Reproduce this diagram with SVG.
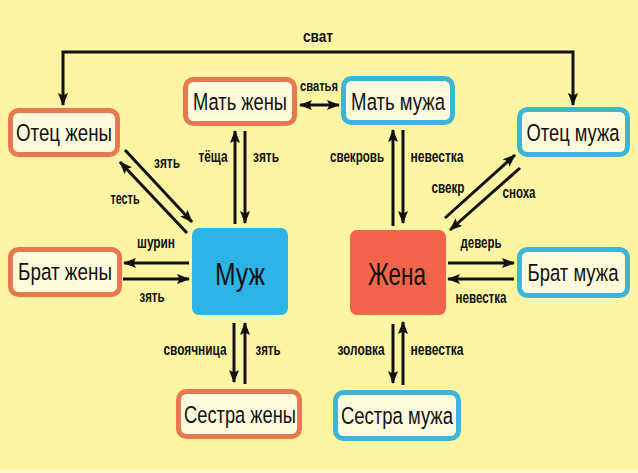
<svg xmlns="http://www.w3.org/2000/svg" width="638" height="473" viewBox="0 0 638 473">
<defs>
<style>
.bg{fill:#fcf5a3}
.nw{fill:#fffbdc;stroke:#e6794f;stroke-width:5}
.nh{fill:#fffbdc;stroke:#3eb4d6;stroke-width:5}
.t{font-family:"Liberation Sans Narrow","Liberation Sans",Arial,sans-serif;fill:#111;text-anchor:middle}
.nt{font-size:24.5px}
.big{font-size:32px}
.lb{font-size:16px;font-weight:bold}
.sm{font-size:14px;font-weight:bold}
.c{fill:none;stroke:#111;stroke-width:3}
</style>
<marker id="ah" viewBox="0 0 13 10" markerWidth="13" markerHeight="10" refX="12" refY="5" orient="auto-start-reverse" markerUnits="userSpaceOnUse">
<path d="M0,0 L13,5 L0,10 L2.5,5 z" fill="#111"/>
</marker>
</defs>
<rect class="bg" x="0" y="0" width="638" height="473"/>
<rect x="0" y="469" width="638" height="4" fill="#fdf9c8"/>

<g id="connectors">
<path class="c" d="M63,105 V52 H573 V105" marker-start="url(#ah)" marker-end="url(#ah)"/>
<line class="c" x1="300" y1="105" x2="339" y2="105" marker-start="url(#ah)" marker-end="url(#ah)"/>
<line class="c" x1="235" y1="224" x2="235" y2="131" marker-end="url(#ah)"/>
<line class="c" x1="245" y1="131" x2="245" y2="223" marker-end="url(#ah)"/>
<line class="c" x1="125" y1="150" x2="192" y2="222" marker-end="url(#ah)"/>
<line class="c" x1="187" y1="233" x2="120" y2="162" marker-end="url(#ah)"/>
<line class="c" x1="189" y1="263" x2="124" y2="263" marker-end="url(#ah)"/>
<line class="c" x1="123" y1="279" x2="189" y2="279" marker-end="url(#ah)"/>
<line class="c" x1="234" y1="323" x2="234" y2="382" marker-end="url(#ah)"/>
<line class="c" x1="245" y1="384" x2="245" y2="323" marker-end="url(#ah)"/>
<line class="c" x1="393" y1="226" x2="393" y2="130" marker-end="url(#ah)"/>
<line class="c" x1="403" y1="130" x2="403" y2="223" marker-end="url(#ah)"/>
<line class="c" x1="445" y1="218" x2="515" y2="155" marker-end="url(#ah)"/>
<line class="c" x1="520" y1="168" x2="450" y2="230" marker-end="url(#ah)"/>
<line class="c" x1="448" y1="263" x2="514" y2="263" marker-end="url(#ah)"/>
<line class="c" x1="514" y1="279" x2="448" y2="279" marker-end="url(#ah)"/>
<line class="c" x1="393" y1="324" x2="393" y2="383" marker-end="url(#ah)"/>
<line class="c" x1="403" y1="385" x2="403" y2="322" marker-end="url(#ah)"/>
</g>

<g id="labels">
<text class="t lb" x="318" y="42" textLength="30" lengthAdjust="spacingAndGlyphs">сват</text>
<text class="t sm" x="319" y="91" textLength="38" lengthAdjust="spacingAndGlyphs">сватья</text>
<text class="t lb" x="213" y="162" textLength="29" lengthAdjust="spacingAndGlyphs">тёща</text>
<text class="t lb" x="266" y="162" textLength="26" lengthAdjust="spacingAndGlyphs">зять</text>
<text class="t lb" x="167" y="168" textLength="26" lengthAdjust="spacingAndGlyphs">зять</text>
<text class="t lb" x="125" y="204" textLength="29" lengthAdjust="spacingAndGlyphs">тесть</text>
<text class="t lb" x="156" y="248" textLength="38" lengthAdjust="spacingAndGlyphs">шурин</text>
<text class="t lb" x="152" y="302" textLength="25" lengthAdjust="spacingAndGlyphs">зять</text>
<text class="t lb" x="195" y="355" textLength="63" lengthAdjust="spacingAndGlyphs">своячница</text>
<text class="t lb" x="268" y="355" textLength="25" lengthAdjust="spacingAndGlyphs">зять</text>
<text class="t lb" x="357" y="162" textLength="54" lengthAdjust="spacingAndGlyphs">свекровь</text>
<text class="t lb" x="437" y="162" textLength="53" lengthAdjust="spacingAndGlyphs">невестка</text>
<text class="t lb" x="448" y="193" textLength="33" lengthAdjust="spacingAndGlyphs">свекр</text>
<text class="t lb" x="519" y="198" textLength="33" lengthAdjust="spacingAndGlyphs">сноха</text>
<text class="t lb" x="481" y="248" textLength="41" lengthAdjust="spacingAndGlyphs">деверь</text>
<text class="t lb" x="481" y="303" textLength="51" lengthAdjust="spacingAndGlyphs">невестка</text>
<text class="t lb" x="361" y="355" textLength="47" lengthAdjust="spacingAndGlyphs">золовка</text>
<text class="t lb" x="437" y="355" textLength="53" lengthAdjust="spacingAndGlyphs">невестка</text>
</g>

<g id="otec-zheny">
<rect class="nw" x="10.5" y="110.5" width="107" height="44" rx="8"/>
<text class="t nt" x="64" y="141" textLength="96" lengthAdjust="spacingAndGlyphs">Отец жены</text>
</g>
<g id="mat-zheny">
<rect class="nw" x="185.5" y="79.5" width="109" height="44" rx="8"/>
<text class="t nt" x="240" y="110" textLength="94" lengthAdjust="spacingAndGlyphs">Мать жены</text>
</g>
<g id="mat-muzha">
<rect class="nh" x="343.5" y="78.5" width="109" height="44" rx="8"/>
<text class="t nt" x="398" y="110" textLength="94" lengthAdjust="spacingAndGlyphs">Мать мужа</text>
</g>
<g id="otec-muzha">
<rect class="nh" x="519.5" y="109.5" width="108" height="45" rx="8"/>
<text class="t nt" x="573" y="141" textLength="93" lengthAdjust="spacingAndGlyphs">Отец мужа</text>
</g>
<g id="brat-zheny">
<rect class="nw" x="10.5" y="249.5" width="109" height="45" rx="8"/>
<text class="t nt" x="65" y="280" textLength="94" lengthAdjust="spacingAndGlyphs">Брат жены</text>
</g>
<g id="brat-muzha">
<rect class="nh" x="519.5" y="249.5" width="108" height="46" rx="8"/>
<text class="t nt" x="573" y="281" textLength="91" lengthAdjust="spacingAndGlyphs">Брат мужа</text>
</g>
<g id="sestra-zheny">
<rect class="nw" x="178.5" y="391.5" width="121" height="45" rx="8"/>
<text class="t nt" x="240" y="423" textLength="112" lengthAdjust="spacingAndGlyphs">Сестра жены</text>
</g>
<g id="sestra-muzha">
<rect class="nh" x="335.5" y="392.5" width="123" height="46" rx="8"/>
<text class="t nt" x="397" y="424" textLength="112" lengthAdjust="spacingAndGlyphs">Сестра мужа</text>
</g>
<g id="muzh">
<rect x="192" y="228" width="96" height="87" rx="7" fill="#2cb4e6"/>
<text class="t big" x="240" y="285" textLength="50" lengthAdjust="spacingAndGlyphs" fill="#0e2a44">Муж</text>
</g>
<g id="zhena">
<rect x="350" y="230" width="96" height="85" rx="7" fill="#f4634a"/>
<text class="t big" x="397" y="285" textLength="58" lengthAdjust="spacingAndGlyphs">Жена</text>
</g>
</svg>
